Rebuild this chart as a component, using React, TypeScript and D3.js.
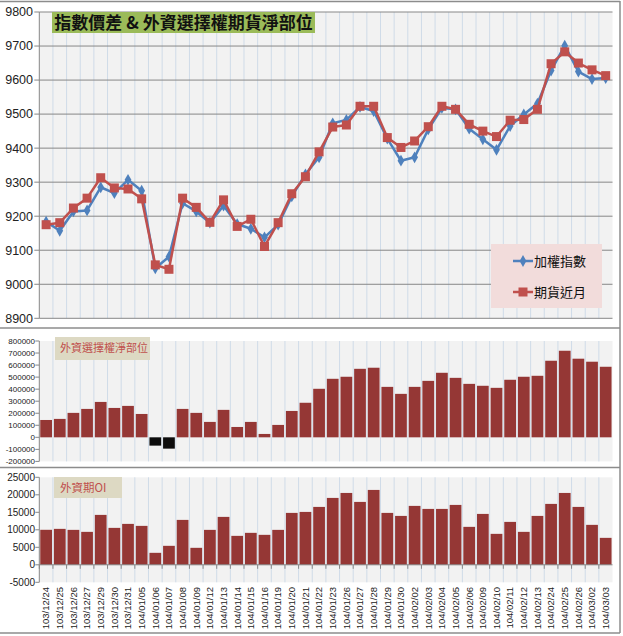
import React from "react";
import * as d3 from "d3";

const dates = [
  "103/12/24","103/12/25","103/12/26","103/12/27","103/12/29","103/12/30","103/12/31",
  "104/01/05","104/01/06","104/01/07","104/01/08","104/01/09","104/01/12","104/01/13",
  "104/01/14","104/01/15","104/01/16","104/01/19","104/01/20","104/01/21","104/01/22",
  "104/01/23","104/01/26","104/01/27","104/01/28","104/01/29","104/01/30","104/02/02",
  "104/02/03","104/02/04","104/02/05","104/02/06","104/02/09","104/02/10","104/02/11",
  "104/02/12","104/02/13","104/02/24","104/02/25","104/02/26","104/03/02","104/03/03",
];

const indexValues = [
  9184, 9157, 9214, 9217, 9285, 9268, 9307, 9275, 9047, 9081, 9238, 9214, 9181, 9231,
  9177, 9163, 9138, 9175, 9258, 9323, 9373, 9473, 9483, 9521, 9509, 9428, 9363, 9373,
  9455, 9518, 9514, 9457, 9426, 9395, 9465, 9499, 9531, 9628, 9701, 9625, 9603, 9606,
];

const futuresValues = [
  9175, 9181, 9224, 9253, 9313, 9283, 9280, 9251, 9057, 9044, 9253, 9226, 9182, 9248,
  9170, 9191, 9111, 9181, 9266, 9316, 9389, 9462, 9468, 9523, 9523, 9431, 9402, 9421,
  9463, 9523, 9514, 9470, 9450, 9434, 9482, 9484, 9514, 9648, 9683, 9650, 9630, 9613,
];

const optionNet = [
  144000, 153000, 203000, 236000, 294000, 244000, 261000, 194000, -69000, -94000,
  236000, 203000, 128000, 228000, 86000, 128000, 28000, 103000, 219000, 287000,
  403000, 486000, 503000, 569000, 578000, 419000, 361000, 419000, 469000, 536000,
  494000, 444000, 428000, 411000, 478000, 503000, 511000, 636000, 719000, 653000,
  628000, 586000,
];

const futuresOI = [
  10000, 10270, 9980, 9410, 14260, 10550, 11690, 11120, 3420, 5420, 12830, 4850,
  9980, 13690, 8270, 9130, 8560, 9980, 14830, 15110, 16540, 19110, 20530, 17970,
  21390, 14830, 13970, 16830, 15970, 15970, 17110, 10840, 14540, 8840, 12260, 9410,
  13970, 17400, 20530, 16540, 11410, 7700,
];

const topTicks = [8900, 9000, 9100, 9200, 9300, 9400, 9500, 9600, 9700, 9800];
const midTicks = [-200000, -100000, 0, 100000, 200000, 300000, 400000, 500000, 600000, 700000, 800000];
const botTicks = [-5000, 0, 5000, 10000, 15000, 20000, 25000];

const title = "指數價差 & 外資選擇權期貨淨部位";
const seriesNames = ["加權指數", "期貨近月"];
const midLabel = "外資選擇權淨部位";
const botLabel = "外資期OI";

const W = 623;
const H = 636;
const PX0 = 39.3;
const PX1 = 612.5;
const BLUE = "#4f81bd";
const RED = "#c0504d";
const BAR = "#953735";
const LATIN = "'Liberation Sans', 'Noto Sans', Arial, sans-serif";
const CJK = "'Noto Sans CJK TC', 'Noto Sans CJK SC', sans-serif";

export default function App() {
  const x = d3.scaleBand<string>().domain(dates).range([PX0, PX1]).padding(0);
  const bw = x.bandwidth();
  const cx = (d: string) => (x(d) as number) + bw / 2;

  const yTop = d3.scaleLinear().domain([8900, 9800]).range([318.3, 12]);
  const yMid = d3.scaleLinear().domain([-200000, 800000]).range([461.4, 341]);
  const yBot = d3.scaleLinear().domain([-5000, 25000]).range([582.3, 477.3]);

  const lineGen = (vals: number[]) =>
    d3.line<number>().x((_, i) => cx(dates[i])).y((v) => yTop(v))(vals) as string;

  const diamond = d3.symbol().type(d3.symbolDiamond).size(40)() as string;

  const vGrid = (y0: number, y1: number, key: string) =>
    dates.slice(1).map((d) => (
      <line key={key + d} x1={x(d)} x2={x(d)} y1={y0} y2={y1} stroke="#cfdbe8" strokeWidth={1} />
    ));

  const plotBg = (yA: number, yB: number) => (
    <rect x={PX0} y={yA} width={PX1 - PX0} height={yB - yA} fill="#f2f2f2" />
  );

  const barW = bw * 0.86;

  return (
    <svg
      width={W}
      height={H}
      style={{ position: "absolute", left: 0, top: 0, background: "#fff" }}
    >
      {/* panel frames */}
      <line x1={0} x2={620} y1={1.5} y2={1.5} stroke="#8c8c8c" strokeWidth={1.5} />
      <line x1={620} x2={620} y1={1} y2={633} stroke="#8c8c8c" strokeWidth={1.5} />
      <line x1={0} x2={620} y1={328} y2={328} stroke="#8c8c8c" strokeWidth={1.5} />
      <line x1={0} x2={620} y1={467.5} y2={467.5} stroke="#8c8c8c" strokeWidth={1.5} />
      <line x1={0} x2={620} y1={633} y2={633} stroke="#8c8c8c" strokeWidth={1.5} />

      {/* ===== TOP PANEL ===== */}
      {plotBg(yTop(9800), yTop(8900))}
      {vGrid(yTop(9800), yTop(8900), "t")}
      {topTicks.map((t) => (
        <g key={"tt" + t}>
          <line x1={PX0} x2={PX1} y1={yTop(t)} y2={yTop(t)} stroke="#878787" strokeWidth={1} />
          <line x1={PX0 - 5} x2={PX0} y1={yTop(t)} y2={yTop(t)} stroke="#878787" strokeWidth={1} />
          <text x={33} y={yTop(t)} dy="0.35em" textAnchor="end" fontSize={12.5} fontFamily={LATIN} fill="#222">
            {t}
          </text>
        </g>
      ))}
      <line x1={PX0} x2={PX0} y1={yTop(9800)} y2={yTop(8900)} stroke="#878787" strokeWidth={1} />

      <path d={lineGen(indexValues)} fill="none" stroke={BLUE} strokeWidth={2.5} strokeLinejoin="round" />
      {indexValues.map((v, i) => (
        <path key={"bd" + i} d={diamond} transform={`translate(${cx(dates[i])},${yTop(v)})`} fill={BLUE} />
      ))}
      <path d={lineGen(futuresValues)} fill="none" stroke={RED} strokeWidth={2.5} strokeLinejoin="round" />
      {futuresValues.map((v, i) => (
        <rect key={"rs" + i} x={cx(dates[i]) - 4.5} y={yTop(v) - 4.5} width={9} height={9} fill={RED} />
      ))}

      {/* title */}
      <rect x={52} y={12} width={263} height={21} fill="#9bbb59" />
      <text x={183.5} y={22.5} dy="0.36em" textAnchor="middle" fontSize={17} fontFamily={CJK} fontWeight={700} fill="#111">
        {title}
      </text>

      {/* legend */}
      <rect x={491} y={244} width={111} height={64} fill="#f2dcdb" />
      <line x1={513} x2={533} y1={261} y2={261} stroke={BLUE} strokeWidth={2.5} />
      <path d={diamond} transform="translate(523,261)" fill={BLUE} />
      <text x={534} y={261} dy="0.36em" fontSize={13} fontFamily={CJK} fill="#111">{seriesNames[0]}</text>
      <line x1={513} x2={533} y1={292} y2={292} stroke={RED} strokeWidth={2.5} />
      <rect x={518.5} y={287.5} width={9} height={9} fill={RED} />
      <text x={534} y={292} dy="0.36em" fontSize={13} fontFamily={CJK} fill="#111">{seriesNames[1]}</text>

      {/* ===== MIDDLE PANEL ===== */}
      {plotBg(yMid(800000), yMid(-200000))}
      {vGrid(yMid(800000), yMid(-200000), "m")}
      {optionNet.map((v, i) => (
        <rect
          key={"mb" + i}
          x={cx(dates[i]) - barW / 2}
          y={Math.min(yMid(v), yMid(0))}
          width={barW}
          height={Math.abs(yMid(v) - yMid(0))}
          fill={v < 0 ? "#0d0d0d" : BAR}
        />
      ))}
      <line x1={PX0} x2={PX0} y1={yMid(800000)} y2={yMid(-200000)} stroke="#878787" strokeWidth={1} />
      {midTicks.map((t) => (
        <g key={"mt" + t}>
          <line x1={PX0 - 4} x2={PX0} y1={yMid(t)} y2={yMid(t)} stroke="#878787" strokeWidth={1} />
          <text x={35} y={yMid(t)} dy="0.35em" textAnchor="end" fontSize={8} fontFamily={LATIN} fill="#222">
            {t}
          </text>
        </g>
      ))}
      <rect x={55} y={337} width={95} height={23} fill="#ddd9c3" />
      <text x={60} y={348.5} dy="0.36em" fontSize={11} fontFamily={CJK} fill={RED}>{midLabel}</text>

      {/* ===== BOTTOM PANEL ===== */}
      {plotBg(yBot(25000), yBot(-5000))}
      {vGrid(yBot(25000), yBot(-5000), "b")}
      {futuresOI.map((v, i) => (
        <rect
          key={"bb" + i}
          x={cx(dates[i]) - barW / 2}
          y={yBot(v)}
          width={barW}
          height={yBot(0) - yBot(v)}
          fill={BAR}
        />
      ))}
      <line x1={PX0} x2={PX1} y1={yBot(0)} y2={yBot(0)} stroke="#878787" strokeWidth={1} />
      {dates.map((d) => (
        <line key={"xt" + d} x1={x(d)} x2={x(d)} y1={yBot(0)} y2={yBot(0) + 4} stroke="#878787" strokeWidth={1} />
      ))}
      <line x1={PX0} x2={PX0} y1={yBot(25000)} y2={yBot(-5000)} stroke="#878787" strokeWidth={1} />
      {botTicks.map((t) => (
        <g key={"bt" + t}>
          <line x1={PX0 - 4} x2={PX0} y1={yBot(t)} y2={yBot(t)} stroke="#878787" strokeWidth={1} />
          <text x={35} y={yBot(t)} dy="0.35em" textAnchor="end" fontSize={10} fontFamily={LATIN} fill="#222">
            {t}
          </text>
        </g>
      ))}
      {dates.map((d) => (
        <text
          key={"xl" + d}
          transform={`translate(${cx(d)},${587}) rotate(-90)`}
          dy="0.35em"
          textAnchor="end"
          fontSize={9.5}
          fontFamily={LATIN}
          fill="#222"
        >
          {d}
        </text>
      ))}
      <rect x={54} y={477} width={68} height={21} fill="#ddd9c3" />
      <text x={60} y={487.5} dy="0.36em" fontSize={11.5} fontFamily={CJK} fill={RED}>{botLabel}</text>
    </svg>
  );
}
